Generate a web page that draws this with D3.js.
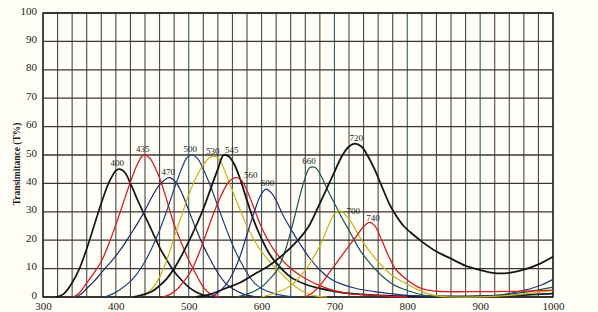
<!DOCTYPE html>
<html>
<head>
<meta charset="utf-8">
<script src="https://cdn.jsdelivr.net/npm/d3@7"></script>
<style>
  body { margin:0; background:#fffef6; }
  svg { display:block; }
</style>
</head>
<body>
<svg></svg>
<script>
// transmittance curves, [wavelength nm, T %]
var f400 = [[318,0],[328,1],[340,5],[350,10],[360,17],[370,25],[380,33],[390,40],[400,44.5],[405,45],[412,44],[420,40],[430,34],[440,28.5],[450,23],[460,17.5],[470,13],[480,9],[490,6],[500,3.5],[510,1.8],[520,0.7],[535,0]]
var f435 = [[342,0],[350,1.5],[360,5],[370,8.5],[380,12.5],[390,18.5],[400,25.5],[410,33],[420,40.5],[430,47],[438,50],[446,49],[455,45],[462,40.5],[470,34],[480,25.5],[490,19],[500,13],[510,8],[520,3.5],[530,1],[542,0]]
var f470 = [[345,0],[352,1],[360,3],[370,5.5],[380,8.5],[390,11.5],[400,14.5],[410,18],[420,22],[430,26],[440,30.5],[450,35.5],[460,39.5],[473,42],[482,40.5],[490,37],[500,30.5],[510,24],[520,18],[530,13],[540,8.5],[550,5],[560,3],[575,1],[595,0]]
var f500 = [[385,0],[395,1],[405,2.5],[420,5.5],[430,8.5],[440,12.5],[450,17.5],[460,23.5],[470,30.5],[480,38],[490,45],[498,49.2],[505,50],[512,48.8],[520,45],[530,39],[540,32],[550,25],[560,18.5],[570,13],[580,8.5],[590,5],[600,3],[620,1],[645,0]]
var f530 = [[425,0],[440,1],[450,3],[460,7],[470,13],[480,21],[490,28.5],[500,36],[510,42],[520,46.5],[528,49],[534,49.6],[542,48.5],[550,44],[560,37.5],[570,31],[580,25],[590,20],[600,16],[610,12.8],[620,10],[630,7.5],[640,5],[650,3],[660,1.5],[675,0.3],[690,0]]
var f545 = [[425,0],[440,1],[450,2],[460,4],[470,6.5],[480,10],[490,14.5],[500,19.5],[510,25],[520,31],[530,38],[540,45],[548,50],[555,49.5],[562,47],[570,42],[580,34],[590,26.5],[600,20.5],[610,15.5],[620,12],[640,7],[660,4.5],[680,3],[700,2],[720,1.3],[760,0.6],[800,0.3],[850,0.2],[900,0.3],[950,0.6],[1000,1.2]]
var f560 = [[465,0],[475,1],[485,3],[495,6],[505,10],[515,16],[525,23],[535,30],[545,36],[555,40.5],[565,42],[572,41.2],[580,37.5],[590,31],[600,24.5],[610,19.5],[620,15.5],[640,10],[660,6.5],[680,4],[700,2.2],[720,1.2],[760,0.5],[800,0]]
var f600 = [[530,0],[540,1.5],[550,4],[560,8],[570,14],[580,22],[590,30],[598,35.5],[606,38],[614,36.5],[620,34],[630,28.5],[640,24],[652,19],[665,14],[680,9.5],[695,6.3],[708,4.7],[730,3],[755,1.9],[780,1.1],[800,0.6],[840,0.2],[900,0.2],[930,0.8],[950,1.8],[970,3],[985,4.3],[1000,6.2]]
var f660 = [[565,0],[580,1],[600,3.5],[610,6],[620,9],[630,14.5],[640,23],[650,33],[658,40.5],[666,45.5],[674,45.5],[682,42.5],[690,38],[700,33],[710,28],[720,23.5],[735,16.5],[750,11.5],[765,7.5],[780,4.5],[800,2.3],[820,0.8],[840,0.2],[880,0],[920,0.5],[960,1.6],[1000,3.5]]
var f700 = [[600,0],[620,1.5],[640,4],[660,9.5],[680,18],[690,24],[698,28.5],[705,30.4],[713,29.5],[725,25.5],[735,21],[750,15.5],[765,11],[780,7.5],[800,4.5],[815,2.5],[830,1],[845,0.2],[860,0],[920,0.2],[960,1],[1000,2.3]]
var f720 = [[510,0],[530,1],[550,3],[570,5],[590,8],[610,11],[630,15],[650,20],[665,25],[680,33],[690,38.5],[700,44],[710,49.5],[720,53],[728,54],[737,53],[745,50],[755,45],[765,39],[775,33],[785,28.5],[795,25],[808,22],[820,19.5],[840,16],[860,13.5],[880,11],[900,9.5],[920,8.4],[940,8.5],[960,9.6],[980,11.5],[1000,14.2]]
var f740 = [[660,0],[670,1.5],[680,4],[690,7.5],[700,11],[710,14.5],[720,18],[730,21.3],[740,24.8],[748,26.3],[755,25.2],[765,20],[775,14],[785,9.5],[800,6],[815,3.5],[830,2.3],[850,1.9],[900,1.9],[950,2],[1000,2.4]]

// peak labels: text, wavelength, T
var peakLabels = [["400",402,46],["435",437,51],["470",472,43],["500",502,51],["530",533,50.3],["545",559,50.8],
  ["560",585,42],["600",608,39],["660",665,47],["720",730,55],["700",726,29.3],["740",753,26.8]]

var xTicks = [300,400,500,600,700,800,900,1000]
var yTicks = [0,10,20,30,40,50,60,70,80,90,100]

var series = [
  {d:f400, c:"#151515", w:1.7},
  {d:f435, c:"#d21f24", w:1.3},
  {d:f470, c:"#1d2b66", w:1.2},
  {d:f500, c:"#1f4478", w:1.2},
  {d:f530, c:"#c9b21c", w:1.2},
  {d:f545, c:"#151515", w:1.8},
  {d:f560, c:"#d21f24", w:1.3},
  {d:f600, c:"#23307e", w:1.2},
  {d:f660, c:"#1f5650", w:1.2},
  {d:f700, c:"#c9b21c", w:1.2},
  {d:f720, c:"#151515", w:1.8},
  {d:f740, c:"#d21f24", w:1.3}
]

var svg = d3.select("svg").attr("width",598).attr("height",312)
svg.append("rect").attr("width",598).attr("height",312).attr("fill","#fffef6")

var x = d3.scaleLinear().domain([300,1000]).range([43,553])
var y = d3.scaleLinear().domain([0,100]).range([297,13])

// grid
var g = svg.append("g")
g.selectAll("line.v").data(d3.range(300,1001,20)).enter().append("line")
  .attr("x1",d=>x(d)).attr("x2",d=>x(d)).attr("y1",y(0)).attr("y2",y(100))
  .attr("stroke",d=>(d%100==0 && d>400 && d<1000) ? "#2f5f66" : "#4a4646")
  .attr("stroke-width",1.1)
g.selectAll("line.h").data(d3.range(0,101,10)).enter().append("line")
  .attr("y1",d=>y(d)).attr("y2",d=>y(d)).attr("x1",x(300)).attr("x2",x(1000))
  .attr("stroke","#3e3535").attr("stroke-width",1.3)
g.append("rect").attr("x",x(300)).attr("y",y(100)).attr("width",x(1000)-x(300)).attr("height",y(0)-y(100))
  .attr("fill","none").attr("stroke","#222").attr("stroke-width",1.4)

// axes labels
var xa = svg.append("g").attr("transform","translate(0,"+(y(0)+1)+")")
  .call(d3.axisBottom(x).tickValues(xTicks).tickSize(0).tickPadding(4).tickFormat(d3.format("d")))
var ya = svg.append("g").attr("transform","translate("+(x(300)-3)+",0)")
  .call(d3.axisLeft(y).tickValues(yTicks).tickSize(0).tickPadding(3))
;[xa,ya].forEach(a=>{
  a.select(".domain").remove()
  a.selectAll("text").style("font-family","'Liberation Serif', serif").style("font-size","11px").attr("fill","#222")
})
ya.selectAll("text").attr("dy","0.1em")

svg.append("text").text("Transimitance (T%)")
  .attr("transform","translate(20,164) rotate(-90)")
  .attr("text-anchor","middle")
  .style("font-family","'Liberation Serif', serif").style("font-size","9.5px").style("font-weight","bold")
  .attr("fill","#222")

// curves
var line = d3.line().x(d=>x(d[0])).y(d=>Math.min(y(d[1]),y(0))).curve(d3.curveCatmullRom.alpha(0.5))
svg.append("g").selectAll("path").data(series).enter().append("path")
  .attr("d",d=>line(d.d))
  .attr("fill","none")
  .attr("stroke",d=>d.c)
  .attr("stroke-width",d=>d.w)

// peak labels
svg.append("g").selectAll("text").data(peakLabels).enter().append("text")
  .text(d=>d[0])
  .attr("x",d=>x(d[1])).attr("y",d=>y(d[2]))
  .attr("text-anchor","middle")
  .style("font-family","'Liberation Serif', serif").style("font-size","9px")
  .attr("fill","#222")
</script>
</body>
</html>
